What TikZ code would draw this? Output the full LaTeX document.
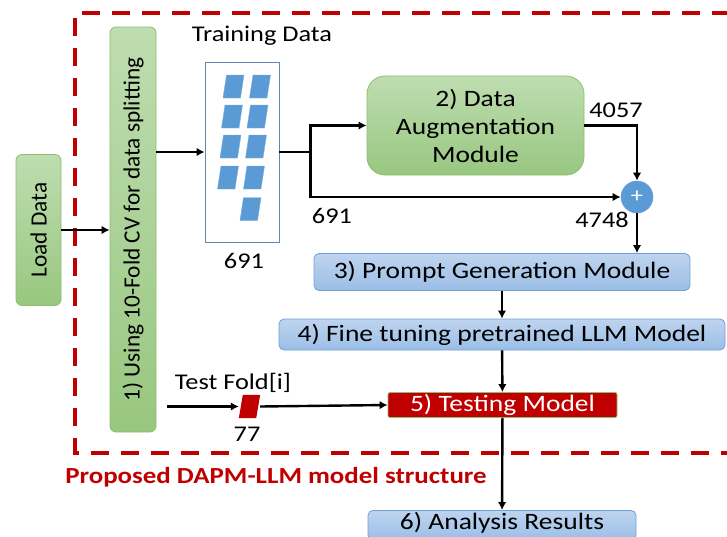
\documentclass[tikz,border=0pt]{standalone}
\usepackage{fontspec}
\setmainfont{Carlito}[FakeStretch=1.17]
\newfontfamily\plainfont{Carlito}
\usepackage{xcolor}
\usepackage{tikz}
\usetikzlibrary{positioning, arrows.meta}
\definecolor{framered}{RGB}{192,0,0}
\definecolor{greenlight}{RGB}{190,221,176}
\definecolor{greendark}{RGB}{152,199,128}
\definecolor{greenedge}{RGB}{140,190,110}
\definecolor{bluelight}{RGB}{190,212,239}
\definecolor{bluedark}{RGB}{155,190,230}
\definecolor{blueedge}{RGB}{112,160,215}
\definecolor{barblue}{RGB}{91,155,213}
\definecolor{testred}{RGB}{192,0,0}

\begin{document}
\begin{tikzpicture}[x=1pt, y=-1pt,
    % Node styles
    txt/.style={font=\fontsize{22.5}{28}\selectfont, inner sep=0pt},
    boxtxt/.style={font=\fontsize{23.5}{28}\selectfont, inner sep=0pt},
    sidebox/.style={inner sep=0pt, font=\plainfont\fontsize{23.3}{28}\selectfont, rotate=90, rounded corners=6pt,
        draw=greenedge, line width=0.8pt, top color=greenlight, bottom color=greendark},
    augbox/.style={boxtxt, align=center, rounded corners=18pt, draw=greenedge, line width=0.8pt,
        top color=greenlight, bottom color=greendark},
    stepbox/.style={boxtxt, rounded corners=5pt, draw=blueedge, line width=0.8pt,
        top color=bluelight, bottom color=bluedark},
    testbox/.style={boxtxt, rounded corners=2pt, draw=greenedge, line width=0.8pt, fill=testred, text=white},
    databox/.style={draw=blueedge!85!black, line width=0.8pt, inner sep=0pt},
    bar/.style={fill=barblue, draw=barblue!80, line width=0.4pt},
    foldspot/.style={inner sep=0pt, minimum width=21pt, minimum height=23pt},
    plusnode/.style={circle, fill=barblue, draw=blueedge, line width=0.6pt, minimum size=32pt, inner sep=0pt,
        text=white, font=\fontsize{21}{21}\selectfont},
    numtext/.style={txt, anchor=base},
    % Edge styles
    edge/.style={draw=black, line width=2.4pt, -{Latex[length=8pt, width=8.5pt]}}
]
\useasboundingbox (0,0) rectangle (727,536);

% Frame
\draw[framered, line width=4pt, dash pattern=on 18pt off 12pt] (760,13) -- (75,13) -- (75,452.5) -- (760,452.5);

% Left column
\node[sidebox, minimum width=151pt, minimum height=45pt] (load) at (38.5,230) {Load Data};
\node[sidebox, minimum width=405pt, minimum height=46pt] (cv) at (133,229.5) {1) Using 10-Fold CV for data splitting};

% Training data
\node[databox, minimum width=74pt, minimum height=180pt] (train) at (242,152) {};
\foreach \bx/\by in {233.5/86.5, 260/86.5, 232/116.5, 257.5/116.5, 230.5/146.5, 256/146.5,
                      228/177.5, 254/177.5, 250.5/209}
  \draw[bar] (\bx-7,\by-11.5) -- (\bx+10.5,\by-11.5) -- (\bx+7,\by+11.5) -- (\bx-10.5,\by+11.5) -- cycle;
\node[numtext] (traintitle) at (262,41) {Training Data};
\node[numtext] (traincount) at (244,268) {691};

% Augmentation
\node[augbox, minimum width=217pt, minimum height=99pt] (aug) at (475.5,125.5) {2) Data\\Augmentation\\Module};
\node[plusnode] (plus) at (637,197) {+};
\node[numtext] (augcount) at (616,117) {4057};
\node[numtext] (origcount) at (332,223) {691};
\node[numtext] (sumcount) at (602,227) {4748};

% Main steps
\node[stepbox, minimum width=376pt, minimum height=37pt] (prompt) at (502,272) {3) Prompt Generation Module};
\node[stepbox, minimum width=446pt, minimum height=31pt] (tune) at (502,334.5) {4) Fine tuning pretrained LLM Model};
\node[testbox, minimum width=229pt, minimum height=25pt] (testing) at (502.5,405) {5) Testing Model};
\node[stepbox, minimum width=268pt, minimum height=30pt, text height=18pt, text depth=10pt, anchor=north]
  (analysis) at (502,510) {6) Analysis Results};

% Test fold
\coordinate (testin) at (167,406.5);
\node[foldspot] (testfold) at (249.5,406.5) {};
\fill[testred] ([xshift=4pt]testfold.north west) -- (testfold.north east)
  -- ([xshift=-4pt]testfold.south east) -- (testfold.south west) -- cycle;
\node[numtext] (foldtitle) at (233,389) {Test Fold[i]};
\node[numtext] (foldcount) at (247,441) {77};

% Caption
\node[numtext, text=framered, font=\bfseries\fontsize{23}{26}\selectfont] (caption) at (276,483) {Proposed DAPM-LLM model structure};

% Draw all edges
\draw[edge] (load.south) -- (load.south -| cv.north);
\draw[edge] (train -| cv.south) -- (train.west);

\draw[edge] (train.east) -- ++(31,0) |- (aug.west);
\draw[edge] (train.east) -- ++(31,0) |- (plus.west);

\draw[edge] (aug.east) -| (plus.north);
\draw[edge] (plus.south) -- (plus.south |- prompt.north);

\draw[edge] (prompt) -- (tune);
\draw[edge] (tune) -- (testing);
\draw[edge] (testing) -- (analysis);

\draw[edge] (testin) -- (testfold.west);
\draw[edge] (testfold.east) -- (testing.west);

\end{tikzpicture}
\end{document}
